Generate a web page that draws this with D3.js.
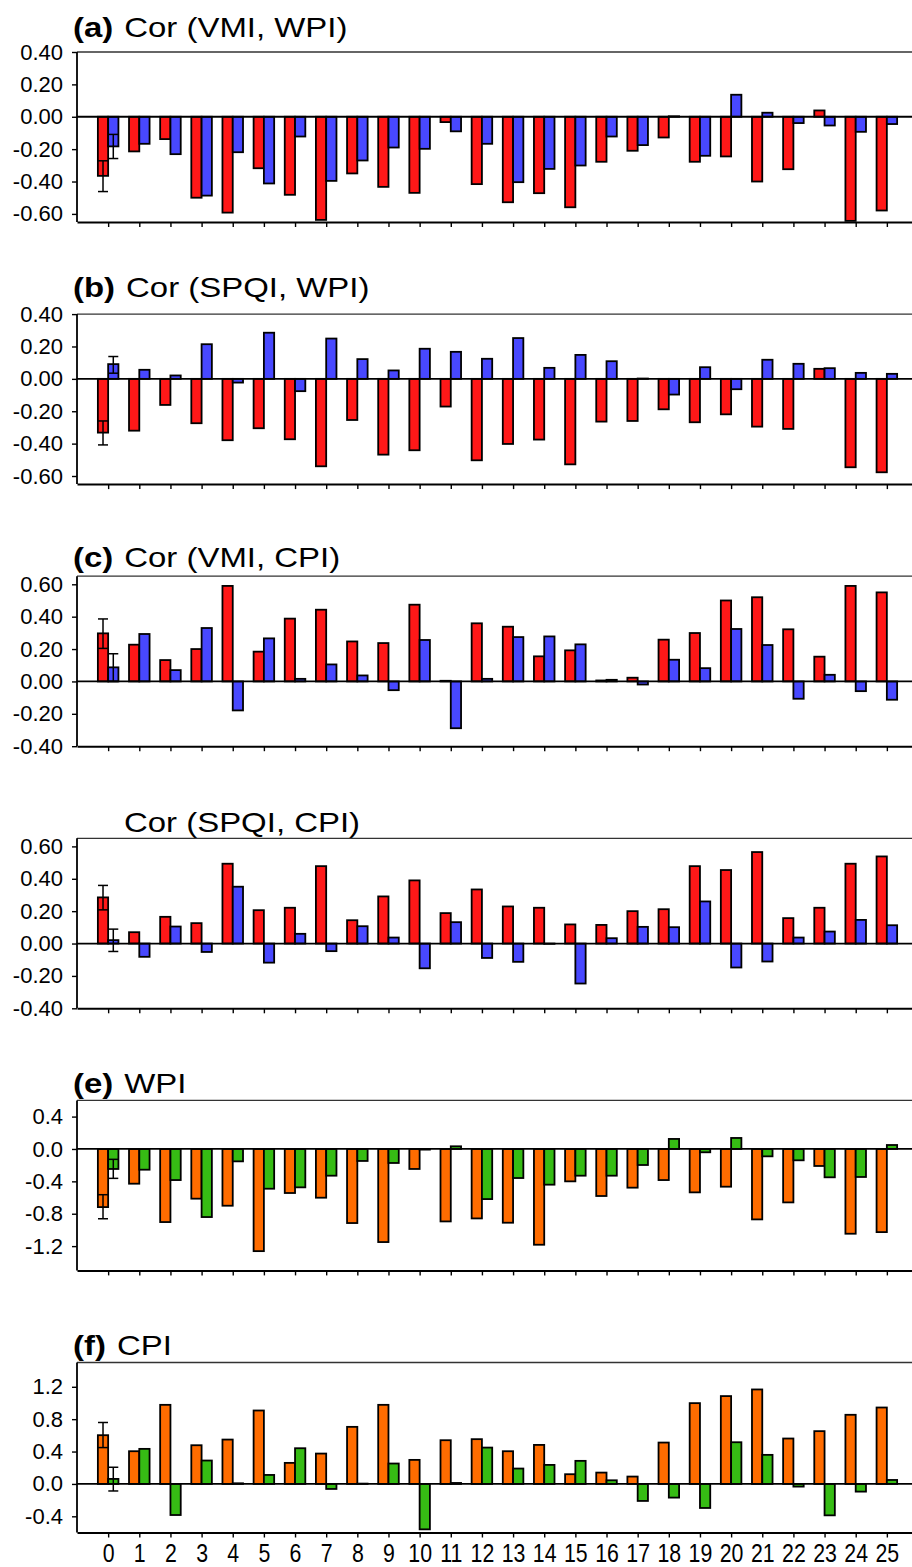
<!DOCTYPE html>
<html>
<head>
<meta charset="utf-8">
<script src="https://cdn.jsdelivr.net/npm/d3@7"></script>
<style>
  body { margin: 0; background: #fff; }
  svg { display: block; font-family: "Liberation Sans", Arial, sans-serif; }
</style>
</head>
<body>
<div id="chart"></div>
<script>
const RED = "#ff1818";
const BLUE = "#4848ff";
const ORANGE = "#ff6c00";
const GREEN = "#36bc14";

const lags = [0, 1, 2, 3, 4, 5, 6, 7, 8, 9, 10, 11, 12, 13, 14, 15, 16, 17, 18, 19, 20, 21, 22, 23, 24, 25];

// (a) Cor (VMI, WPI)
const aRed = [-0.365, -0.214, -0.138, -0.50, -0.592, -0.318, -0.482, -0.637, -0.35, -0.433, -0.47, -0.033, -0.416, -0.528, -0.472, -0.559, -0.278, -0.21, -0.128, -0.278, -0.245, -0.40, -0.324, 0.039, -0.643, -0.579];
const aBlue = [-0.183, -0.167, -0.231, -0.487, -0.219, -0.412, -0.122, -0.396, -0.27, -0.19, -0.198, -0.09, -0.167, -0.404, -0.322, -0.301, -0.122, -0.175, 0.003, -0.241, 0.136, 0.025, -0.039, -0.054, -0.093, -0.045];
const aErr = [[-0.462, -0.272], [-0.258, -0.109]];

// (b) Cor (SPQI, WPI)
const bRed = [-0.332, -0.32, -0.161, -0.274, -0.379, -0.305, -0.373, -0.54, -0.254, -0.468, -0.441, -0.171, -0.503, -0.402, -0.375, -0.528, -0.264, -0.26, -0.188, -0.268, -0.219, -0.295, -0.309, 0.062, -0.546, -0.577];
const bBlue = [0.091, 0.056, 0.021, 0.214, -0.023, 0.285, -0.076, 0.249, 0.122, 0.052, 0.186, 0.167, 0.124, 0.252, 0.068, 0.148, 0.109, 0.002, -0.097, 0.072, -0.064, 0.118, 0.093, 0.066, 0.037, 0.031];
const bErr = [[-0.408, -0.26], [0.035, 0.138]];

// (c) Cor (VMI, CPI)
const cRed = [0.297, 0.227, 0.132, 0.20, 0.59, 0.184, 0.388, 0.443, 0.247, 0.237, 0.474, 0.004, 0.359, 0.338, 0.155, 0.192, 0.006, 0.023, 0.258, 0.299, 0.50, 0.52, 0.322, 0.153, 0.59, 0.55];
const cBlue = [0.087, 0.293, 0.070, 0.33, -0.179, 0.266, 0.016, 0.105, 0.037, -0.054, 0.256, -0.289, 0.016, 0.274, 0.278, 0.229, 0.01, -0.019, 0.134, 0.082, 0.324, 0.225, -0.107, 0.041, -0.06, -0.113];
const cErr = [[0.204, 0.386], [0.0, 0.171]];

// Cor (SPQI, CPI)
const dRed = [0.285, 0.07, 0.165, 0.126, 0.493, 0.206, 0.221, 0.478, 0.144, 0.291, 0.39, 0.188, 0.334, 0.229, 0.221, 0.118, 0.115, 0.20, 0.212, 0.478, 0.454, 0.565, 0.157, 0.221, 0.493, 0.538];
const dBlue = [0.021, -0.082, 0.105, -0.052, 0.351, -0.118, 0.06, -0.047, 0.107, 0.037, -0.153, 0.132, -0.089, -0.113, -0.002, -0.247, 0.033, 0.103, 0.101, 0.26, -0.148, -0.111, 0.037, 0.074, 0.146, 0.113];
const dErr = [[0.208, 0.359], [-0.049, 0.089]];

// (e) WPI
const eOrange = [-0.718, -0.429, -0.903, -0.614, -0.701, -1.262, -0.544, -0.602, -0.915, -1.15, -0.247, -0.895, -0.858, -0.911, -1.183, -0.40, -0.581, -0.478, -0.384, -0.536, -0.466, -0.87, -0.66, -0.21, -1.047, -1.027];
const eGreen = [-0.247, -0.256, -0.384, -0.841, -0.153, -0.491, -0.474, -0.33, -0.148, -0.173, -0.008, 0.033, -0.619, -0.359, -0.441, -0.33, -0.33, -0.198, 0.124, -0.041, 0.136, -0.091, -0.14, -0.35, -0.346, 0.049];
const eErr = [[-0.862, -0.565], [-0.363, -0.128]];

// (f) CPI
const fOrange = [0.602, 0.404, 0.977, 0.478, 0.548, 0.907, 0.26, 0.375, 0.705, 0.977, 0.297, 0.54, 0.553, 0.404, 0.482, 0.12, 0.14, 0.091, 0.511, 0.998, 1.085, 1.167, 0.561, 0.652, 0.854, 0.944];
const fGreen = [0.062, 0.433, -0.384, 0.289, 0.008, 0.111, 0.441, -0.062, 0.004, 0.252, -0.561, 0.012, 0.449, 0.19, 0.235, 0.285, 0.045, -0.21, -0.169, -0.297, 0.515, 0.359, -0.033, -0.388, -0.095, 0.049];
const fErr = [[0.449, 0.759], [-0.087, 0.206]];

const corTicks = [0.4, 0.2, 0, -0.2, -0.4, -0.6];
const corTicks2 = [0.6, 0.4, 0.2, 0, -0.2, -0.4];
const wpiTicks = [0.4, 0, -0.4, -0.8, -1.2];
const cpiTicks = [1.2, 0.8, 0.4, 0, -0.4];

const panels = [
  { label: "(a)", title: "Cor (VMI, WPI)", s1: aRed, s2: aBlue, err: aErr, c1: RED, c2: BLUE, domain: [-0.65, 0.4], ticks: corTicks, fmt: 2 },
  { label: "(b)", title: "Cor (SPQI, WPI)", s1: bRed, s2: bBlue, err: bErr, c1: RED, c2: BLUE, domain: [-0.65, 0.4], ticks: corTicks, fmt: 2 },
  { label: "(c)", title: "Cor (VMI, CPI)", s1: cRed, s2: cBlue, err: cErr, c1: RED, c2: BLUE, domain: [-0.4, 0.65], ticks: corTicks2, fmt: 2 },
  { label: "", title: "Cor (SPQI, CPI)", s1: dRed, s2: dBlue, err: dErr, c1: RED, c2: BLUE, domain: [-0.4, 0.65], ticks: corTicks2, fmt: 2 },
  { label: "(e)", title: "WPI", s1: eOrange, s2: eGreen, err: eErr, c1: ORANGE, c2: GREEN, domain: [-1.5, 0.6], ticks: wpiTicks, fmt: 1 },
  { label: "(f)", title: "CPI", s1: fOrange, s2: fGreen, err: fErr, c1: ORANGE, c2: GREEN, domain: [-0.6, 1.5], ticks: cpiTicks, fmt: 1 }
];

const width = 912, height = 1567;
const left = 77, right = 918;
const firstTop = 52, step = 262.1, plotH = 170;
const titleY = [37, 297, 567, 832, 1093, 1355];
const titleScale = 1.22;

const svg = d3.select("#chart").append("svg")
  .attr("width", width)
  .attr("height", height);

const x = d3.scaleLinear().domain([-1, 26]).range([left, right]);
const barW = (x(1) - x(0)) * 0.33;

panels.forEach(function (p, i) {
  const top = firstTop + i * step;
  const y = d3.scaleLinear().domain(p.domain).range([top + plotH, top]);
  const g = svg.append("g");

  // title: bold panel letter, then the name
  const tx = 73, ty = titleY[i];
  let mainX = 124;
  if (p.label) {
    const lab = g.append("text")
      .attr("transform", "translate(" + tx + "," + ty + ") scale(" + titleScale + ",1)")
      .attr("font-size", 27)
      .attr("font-weight", "bold")
      .text(p.label);
    mainX = tx + lab.node().getComputedTextLength() * titleScale + 11;
  }
  g.append("text")
    .attr("transform", "translate(" + mainX + "," + ty + ") scale(" + titleScale + ",1)")
    .attr("font-size", 27)
    .text(p.title);

  // bars
  const bars = g.append("g").attr("stroke", "#000").attr("stroke-width", 1.8);
  bars.selectAll("rect.s1")
    .data(p.s1)
    .join("rect")
    .attr("class", "s1")
    .attr("x", function (d, k) { return x(lags[k]) - barW; })
    .attr("y", function (d) { return y(Math.max(0, d)); })
    .attr("width", barW)
    .attr("height", function (d) { return Math.abs(y(d) - y(0)); })
    .attr("fill", p.c1);
  bars.selectAll("rect.s2")
    .data(p.s2)
    .join("rect")
    .attr("class", "s2")
    .attr("x", function (d, k) { return x(lags[k]); })
    .attr("y", function (d) { return y(Math.max(0, d)); })
    .attr("width", barW)
    .attr("height", function (d) { return Math.abs(y(d) - y(0)); })
    .attr("fill", p.c2);

  // error bars on lag 0
  const eb = g.append("g").attr("stroke", "#000").attr("stroke-width", 1.5).attr("fill", "none");
  p.err.forEach(function (e, k) {
    const cx = x(lags[0]) + (k === 0 ? -barW / 2 : barW / 2);
    eb.append("line").attr("x1", cx).attr("x2", cx).attr("y1", y(e[0])).attr("y2", y(e[1]));
    e.forEach(function (v) {
      eb.append("line").attr("x1", cx - 5).attr("x2", cx + 5).attr("y1", y(v)).attr("y2", y(v));
    });
  });

  // zero line
  g.append("line")
    .attr("x1", left).attr("x2", right)
    .attr("y1", y(0)).attr("y2", y(0))
    .attr("stroke", "#000").attr("stroke-width", 1.8);

  // frame top
  g.append("line")
    .attr("x1", left).attr("x2", right)
    .attr("y1", top).attr("y2", top)
    .attr("stroke", "#333").attr("stroke-width", 1.3);

  // y axis
  const yAxis = d3.axisLeft(y)
    .tickValues(p.ticks)
    .tickSize(5)
    .tickPadding(9)
    .tickFormat(function (v) { return v.toFixed(p.fmt); });
  const ya = g.append("g").attr("transform", "translate(" + left + ",0)").call(yAxis);
  ya.select(".domain").attr("stroke", "#000").attr("stroke-width", 1.8).attr("d", "M0," + (top + plotH) + "V" + top);
  ya.selectAll(".tick line").attr("stroke-width", 1.4);
  ya.selectAll("text")
    .attr("font-size", 22)
    .attr("font-family", "Liberation Sans, Arial, sans-serif")
    .attr("fill", "#000");

  // x axis
  const xAxis = d3.axisBottom(x)
    .tickValues(lags)
    .tickSize(5)
    .tickSizeOuter(0)
    .tickFormat(i === panels.length - 1 ? d3.format("d") : "");
  const xa = g.append("g").attr("transform", "translate(0," + (top + plotH) + ")").call(xAxis);
  xa.select(".domain").attr("stroke", "#000").attr("stroke-width", 2);
  xa.selectAll(".tick line").attr("stroke-width", 1.4);
  xa.selectAll("text")
    .attr("font-size", 26)
    .attr("font-family", "Liberation Sans, Arial, sans-serif")
    .attr("fill", "#000")
    .attr("y", 0)
    .attr("dy", 0)
    .attr("transform", "translate(0,29) scale(0.82,1)");
});
</script>
</body>
</html>
